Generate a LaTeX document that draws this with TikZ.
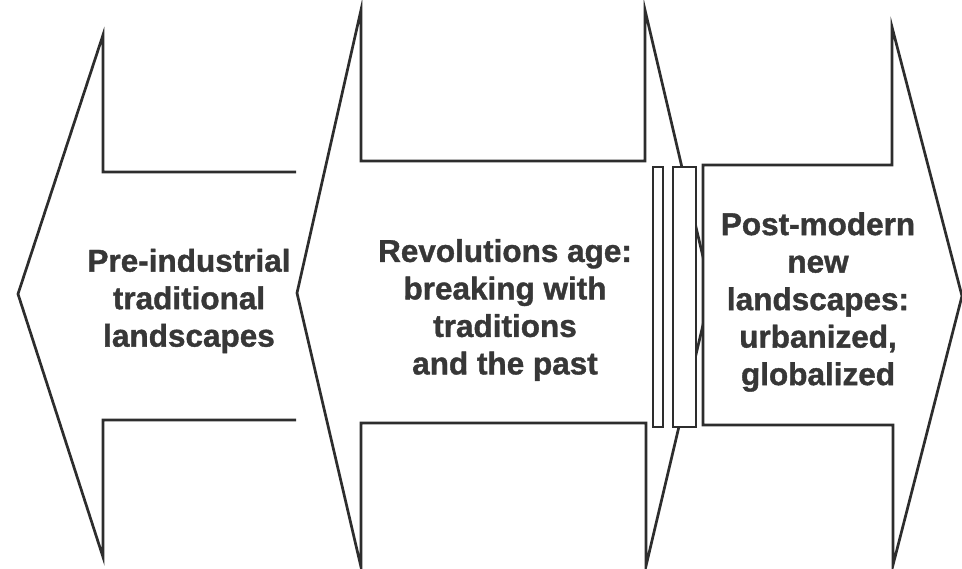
\documentclass[tikz,border=0pt]{standalone}
\usepackage{fontspec}
\setmainfont{Liberation Sans}
\newfontfamily\lblfont[FakeBold=1.2]{Liberation Sans Bold}
\definecolor{ink}{RGB}{45,45,45}
\definecolor{txt}{RGB}{55,55,55}
\begin{document}
\begin{tikzpicture}[x=1pt,y=-1pt,
  outline/.style={draw=ink,line width=2.7pt,line join=miter},
  label/.style={text=txt,font=\lblfont\fontsize{31.5}{37.5}\selectfont,align=center,inner sep=0pt}]
\useasboundingbox (0,0) rectangle (962,569);
% left arrow (open at right)
\draw[outline] (296,172) -- (103,172) -- (103,35) -- (18,294) -- (103,557) -- (103,420) -- (296,420);
% middle double arrow
\draw[outline,fill=white] (297,293) -- (361,10) -- (361,161) -- (645,161) -- (645,10) -- (711,291)
  -- (646,566) -- (646,423) -- (361,423) -- (361,567) -- cycle;
% separator bars
\draw[outline,fill=white,line width=2.3pt] (653,167) rectangle (663,427);
\draw[outline,fill=white,line width=2.3pt] (673,167) rectangle (696,427);
% right arrow
\draw[outline,fill=white] (703,165) -- (892,165) -- (892,27) -- (962,296) -- (893,565) -- (893,425) -- (703,425) -- cycle;
% texts
\node[label] (pre) at (189,301) {Pre-industrial\\traditional\\landscapes};
\node[label] (rev) at (505,310) {Revolutions age:\\breaking with\\traditions\\and the past};
\node[label] (post) at (818,302) {Post-modern\\new\\landscapes:\\urbanized,\\globalized};
\end{tikzpicture}
\end{document}
